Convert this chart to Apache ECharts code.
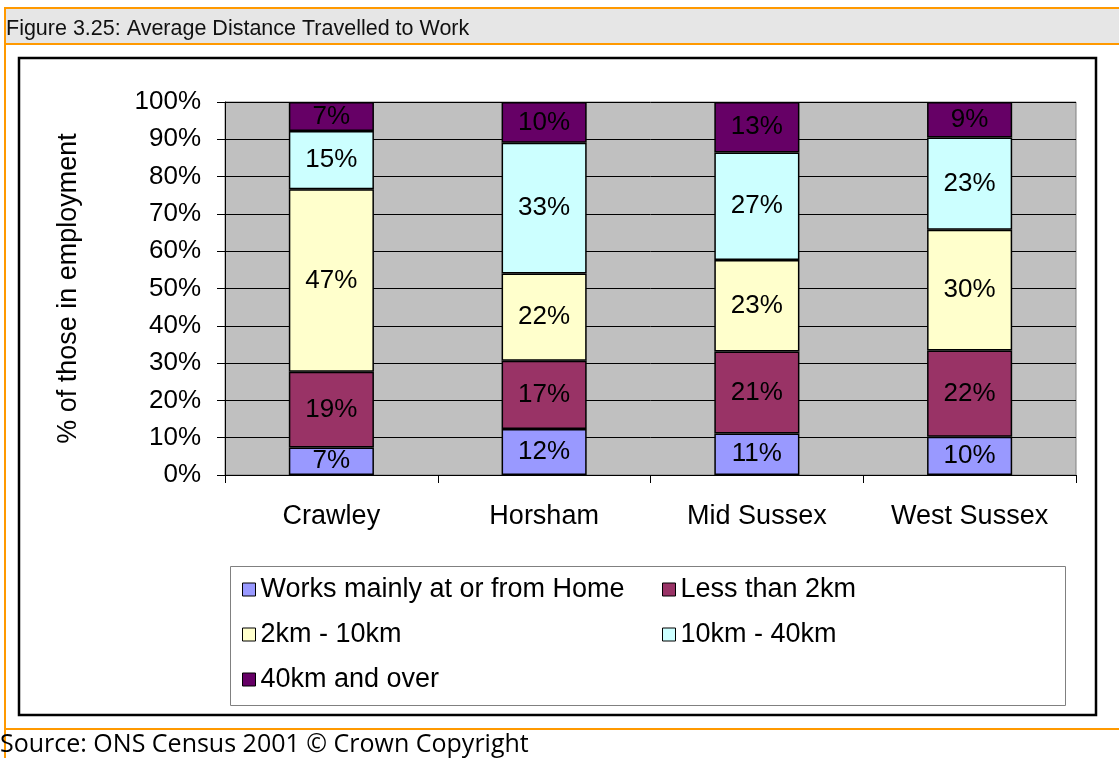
<!DOCTYPE html>
<html>
<head>
    <meta charset="utf-8">
    <title>Average Distance Travelled to Work</title>
    <script src="https://cdn.jsdelivr.net/npm/echarts@6/dist/echarts.min.js"></script>
    <style>
        html, body { margin: 0; padding: 0; background: #fff; }
        #main { width: 1119px; height: 758px; }
    </style>
</head>
<body>
<div id="main"></div>
<script type="text/javascript">
    // areas along the x axis
    var areas = ['Crawley', 'Horsham', 'Mid Sussex', 'West Sussex'];
    // % of those in employment, per distance band (as labelled on the bars)
    var homeWork   = [7.0, 11.6, 10.6, 9.6];
    var under2km   = [19.4, 17.2, 20.9, 21.7];
    var km2to10    = [46.6, 22.0, 23.4, 30.4];
    var km10to40   = [14.9, 32.9, 27.4, 23.2];
    var km40plus   = [7.4, 10.3, 12.9, 8.9];
    var bandNames  = ['Works mainly at or from Home', 'Less than 2km', '2km - 10km', '10km - 40km', '40km and over'];
    var bandColors = ['#9999ff', '#993366', '#ffffcc', '#ccffff', '#660066'];

    var bands = [homeWork, under2km, km2to10, km10to40, km40plus];

    // 100% stacked, like the Excel chart: each column is scaled to its own total
    var totals = areas.map(function (a, i) {
        var t = 0;
        bands.forEach(function (b) { t += b[i]; });
        return t;
    });

    var series = bands.map(function (b, k) {
        return {
            name: bandNames[k],
            type: 'bar',
            stack: 'all',
            barWidth: '40%',
            itemStyle: { color: bandColors[k], borderColor: '#000', borderWidth: 1.5 },
            label: {
                show: true,
                position: 'inside',
                color: '#000',
                fontFamily: 'Liberation Sans',
                fontSize: 26,
                formatter: function (p) { return Math.round(p.data.raw) + '%'; }
            },
            data: b.map(function (v, i) {
                return { value: v / totals[i] * 100, raw: v };
            })
        };
    });

    // legend laid out in two columns like the original
    var legendSpots = [[242, 576], [662, 576], [242, 621], [662, 621], [242, 666]];
    var legends = bandNames.map(function (n, k) {
        return {
            data: [n],
            left: legendSpots[k][0],
            top: legendSpots[k][1],
            padding: 0,
            itemWidth: 13,
            itemHeight: 13,
            itemGap: 0,
            icon: 'rect',
            itemStyle: { borderColor: '#000', borderWidth: 1 },
            selectedMode: false,
            textStyle: { fontFamily: 'Liberation Sans', fontSize: 27, color: '#000' }
        };
    });

    var myChart = echarts.init(document.getElementById('main'));
    var option = {
        animation: false,
        legend: legends,
        grid: {
            left: 225,
            right: 43,
            top: 102,
            bottom: 283,
            show: true,
            backgroundColor: '#c0c0c0',
            borderColor: '#808080',
            borderWidth: 1
        },
        xAxis: {
            type: 'category',
            data: areas,
            axisLine: { lineStyle: { color: '#000', width: 1 } },
            axisTick: { show: true, length: 8, lineStyle: { color: '#000' } },
            axisLabel: { margin: 28, color: '#000', fontFamily: 'Liberation Sans', fontSize: 27 }
        },
        yAxis: {
            type: 'value',
            min: 0,
            max: 100,
            interval: 10,
            name: '% of those in employment',
            nameLocation: 'middle',
            nameGap: 143,
            nameTextStyle: { color: '#000', fontFamily: 'Liberation Sans', fontSize: 27 },
            axisLine: { show: true, lineStyle: { color: '#000', width: 1 } },
            axisTick: { show: true, length: 8, lineStyle: { color: '#000' } },
            axisLabel: { margin: 24, color: '#000', fontFamily: 'Liberation Sans', fontSize: 26, formatter: '{value}%' },
            splitLine: { lineStyle: { color: '#000', width: 1 } }
        },
        graphic: [
            // header band
            { type: 'rect', shape: { x: 5, y: 8, width: 1114, height: 36 }, style: { fill: '#e6e6e6' }, silent: true },
            { type: 'line', shape: { x1: 4, y1: 8, x2: 1119, y2: 8 }, style: { stroke: '#ff9900', lineWidth: 2 }, silent: true },
            { type: 'line', shape: { x1: 4, y1: 44, x2: 1119, y2: 44 }, style: { stroke: '#ff9900', lineWidth: 2 }, silent: true },
            { type: 'line', shape: { x1: 5, y1: 7, x2: 5, y2: 758 }, style: { stroke: '#ff9900', lineWidth: 2 }, silent: true },
            { type: 'line', shape: { x1: 4, y1: 729, x2: 1119, y2: 729 }, style: { stroke: '#ff9900', lineWidth: 2 }, silent: true },
            {
                type: 'text', x: 6, y: 29, silent: true,
                style: { text: 'Figure 3.25: Average Distance Travelled to Work', font: '21.5px "Liberation Sans"', fill: '#111', verticalAlign: 'middle' }
            },
            // chart frame
            { type: 'rect', shape: { x: 19, y: 58, width: 1077, height: 657 }, style: { fill: 'none', stroke: '#000', lineWidth: 2.5 }, silent: true },
            // legend frame
            { type: 'rect', shape: { x: 230.5, y: 566.5, width: 835, height: 139 }, style: { fill: 'none', stroke: '#808080', lineWidth: 1 }, silent: true },
            {
                type: 'text', x: 0, y: 745, silent: true,
                style: { text: 'Source: ONS Census 2001 \u00a9 Crown Copyright', font: '25px "Open Sans"', fill: '#000', verticalAlign: 'middle' }
            }
        ],
        series: series
    };
    myChart.setOption(option);
</script>
</body>
</html>
